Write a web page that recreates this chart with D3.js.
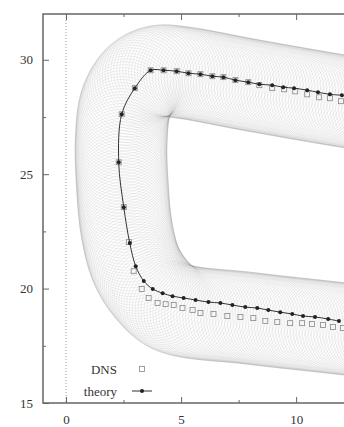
<!DOCTYPE html>
<html>
<head>
<meta charset="utf-8">
<script src="https://cdn.jsdelivr.net/npm/d3@7"></script>
<style>
  body { margin: 0; background: #fff; }
  svg { display: block; }
</style>
</head>
<body>
<svg id="chart" width="344" height="427"></svg>
<script>
// theory curve (from upper right, round the loop, to lower right)
const theoryX = [11.99, 11.47, 10.95, 10.48, 9.91, 9.44, 8.96, 8.40, 7.92, 7.36, 6.84, 6.36, 5.84, 5.32, 4.81, 4.24, 3.68,
                 2.99, 2.42, 2.29, 2.51, 2.77, 3.03, 3.38, 3.77, 4.20, 4.63, 5.11, 5.63, 6.19, 6.71, 7.23, 7.79, 8.31,
                 8.79, 9.31, 9.83, 10.30, 10.82, 11.39, 11.86];
const theoryY = [28.45, 28.49, 28.58, 28.67, 28.76, 28.80, 28.89, 28.93, 29.02, 29.11, 29.24, 29.28, 29.37, 29.41, 29.50, 29.54, 29.54,
                 28.76, 27.62, 25.52, 23.56, 21.99, 20.98, 20.33, 19.98, 19.80, 19.67, 19.59, 19.50, 19.41, 19.37, 19.28, 19.19, 19.15,
                 19.06, 18.97, 18.89, 18.80, 18.76, 18.67, 18.58];

// DNS points
const dnsX = [11.95, 11.47, 11.00, 10.48, 9.96, 9.48, 8.96, 8.40, 7.92, 7.36, 6.84, 6.36, 5.84, 5.32, 4.81, 4.24, 3.68,
              2.99, 2.42, 2.29, 2.51, 2.73, 2.94, 3.29, 3.59, 3.98, 4.33, 4.68, 5.06, 5.50, 5.84, 6.41, 7.01, 7.58,
              8.14, 8.66, 9.18, 9.74, 10.26, 10.69, 11.17, 11.60, 12.03];
const dnsY = [28.19, 28.32, 28.36, 28.49, 28.62, 28.71, 28.76, 28.89, 29.02, 29.11, 29.24, 29.28, 29.37, 29.41, 29.50, 29.54, 29.54,
              28.76, 27.62, 25.52, 23.56, 22.03, 20.76, 19.98, 19.59, 19.37, 19.32, 19.28, 19.15, 19.06, 18.93, 18.89, 18.80, 18.76,
              18.71, 18.58, 18.54, 18.49, 18.49, 18.45, 18.41, 18.32, 18.28];

// centre line of the grey tube of rings and the ring radius
const tubeX = [15.0, 12.0, 8.0, 5.0, 4.0, 3.2, 2.6, 2.4, 2.45, 2.65, 3.1, 3.9, 4.7, 8.0, 12.0, 15.0];
const tubeY = [27.75, 28.2, 28.9, 29.45, 29.5, 29.1, 28.1, 26.5, 24.5, 22.5, 20.9, 19.75, 19.15, 18.7, 18.25, 17.9];
const tubeRadius = 2.0;

const xTicks = [0, 5, 10];
const xMinor = [2.5, 7.5];
const yTicks = [15, 20, 25, 30];
const yMinor = [17.5, 22.5, 27.5];
const legendLabels = ['DNS', 'theory'];

const FONT = '"Liberation Serif", "DejaVu Serif", serif';
const MARGINS = { top: 14, bottom: 24, left: 43, right: 0 };
const WIDTH = 344, HEIGHT = 427;

const svg = d3.select('#chart');

const x = d3.scaleLinear().domain([-1, 12.08]).range([MARGINS.left, WIDTH - MARGINS.right]);
const y = d3.scaleLinear().domain([15, 32]).range([HEIGHT - MARGINS.bottom, MARGINS.top]);

const defs = svg.append('defs');
defs.append('clipPath').attr('id', 'plot-clip')
  .append('rect')
    .attr('x', MARGINS.left).attr('y', MARGINS.top)
    .attr('width', WIDTH - MARGINS.left).attr('height', HEIGHT - MARGINS.bottom - MARGINS.top);
defs.append('filter').attr('id', 'soft')
  .attr('x', '-5%').attr('y', '-5%').attr('width', '110%').attr('height', '110%')
  .append('feGaussianBlur').attr('stdDeviation', 0.6);

const plot = svg.append('g').attr('clip-path', 'url(#plot-clip)');

// Tube: rings along the centre line
const tubePts = tubeX.map((d, i) => [x(d), y(tubeY[i])]);
const guide = plot.append('path')
  .attr('d', d3.line().curve(d3.curveCatmullRom.alpha(0.5))(tubePts))
  .attr('fill', 'none').attr('stroke', 'none');
const node = guide.node();
const total = node.getTotalLength();
const rings = [];
for (let s = 0; s <= total; s += 3) {
  const p = node.getPointAtLength(s);
  rings.push([p.x, p.y]);
}
const rPx = x(tubeRadius) - x(0);
plot.append('g').attr('class', 'rings')
  .attr('filter', 'url(#soft)')
  .selectAll('circle')
  .data(rings)
  .join('circle')
    .attr('cx', d => d[0])
    .attr('cy', d => d[1])
    .attr('r', rPx)
    .attr('fill', 'none')
    .attr('stroke', '#888')
    .attr('stroke-width', 0.45)
    .attr('stroke-opacity', 0.3);

// dotted zero line
plot.append('line')
  .attr('x1', x(0)).attr('x2', x(0))
  .attr('y1', MARGINS.top).attr('y2', HEIGHT - MARGINS.bottom)
  .attr('stroke', '#999').attr('stroke-width', 1)
  .attr('stroke-dasharray', '1,2');

// DNS: open squares
const sq = 5;
plot.selectAll('rect.dns')
  .data(dnsX.map((d, i) => [d, dnsY[i]]))
  .join('rect')
    .attr('class', 'dns')
    .attr('x', d => x(d[0]) - sq / 2)
    .attr('y', d => y(d[1]) - sq / 2)
    .attr('width', sq).attr('height', sq)
    .attr('fill', 'none')
    .attr('stroke', '#888')
    .attr('stroke-width', 0.8);

// theory: line with filled points
const theoryPts = theoryX.map((d, i) => [d, theoryY[i]]);
plot.append('path')
  .datum(theoryPts)
  .attr('d', d3.line().x(d => x(d[0])).y(d => y(d[1])).curve(d3.curveCatmullRom.alpha(0.5)))
  .attr('fill', 'none')
  .attr('stroke', '#333')
  .attr('stroke-width', 1);
plot.selectAll('circle.theory')
  .data(theoryPts)
  .join('circle')
    .attr('class', 'theory')
    .attr('cx', d => x(d[0]))
    .attr('cy', d => y(d[1]))
    .attr('r', 2)
    .attr('fill', '#222');

// Axes (ticks point inwards, gnuplot style)
function styleAxis(g) {
  g.select('.domain').remove();
  g.selectAll('line').attr('stroke', '#666').attr('stroke-width', 1);
  g.selectAll('text').attr('font-family', FONT).attr('font-size', 13).attr('fill', '#333');
}
svg.append('g')
  .attr('transform', `translate(${MARGINS.left},0)`)
  .call(d3.axisLeft(y).tickValues(yTicks).tickSize(-6).tickPadding(10).tickFormat(d3.format('d')))
  .call(styleAxis);
svg.append('g')
  .attr('transform', `translate(${MARGINS.left},0)`)
  .call(d3.axisLeft(y).tickValues(yMinor).tickSize(-3).tickFormat(''))
  .call(styleAxis);
svg.append('g')
  .attr('transform', `translate(0,${HEIGHT - MARGINS.bottom})`)
  .call(d3.axisBottom(x).tickValues(xTicks).tickSize(-6).tickPadding(12).tickFormat(d3.format('d')))
  .call(styleAxis);
svg.append('g')
  .attr('transform', `translate(0,${HEIGHT - MARGINS.bottom})`)
  .call(d3.axisBottom(x).tickValues(xMinor).tickSize(-3).tickFormat(''))
  .call(styleAxis);
svg.append('g')
  .attr('transform', `translate(0,${MARGINS.top})`)
  .call(d3.axisTop(x).tickValues(xTicks).tickSize(-6).tickFormat(''))
  .call(styleAxis);
svg.append('g')
  .attr('transform', `translate(0,${MARGINS.top})`)
  .call(d3.axisTop(x).tickValues(xMinor).tickSize(-3).tickFormat(''))
  .call(styleAxis);

// Frame (left, top, bottom; the right side runs off the picture)
svg.append('path')
  .attr('d', `M${WIDTH},${MARGINS.top}H${MARGINS.left}V${HEIGHT - MARGINS.bottom}H${WIDTH}`)
  .attr('fill', 'none')
  .attr('stroke', '#666')
  .attr('stroke-width', 1.5);

// Legend
const legend = svg.append('g').attr('class', 'legend');
const legendY = [369, 391];
legend.selectAll('text')
  .data(legendLabels)
  .join('text')
    .attr('x', 117)
    .attr('y', (d, i) => legendY[i])
    .attr('dy', '0.35em')
    .attr('text-anchor', 'end')
    .attr('font-family', FONT)
    .attr('font-size', 13)
    .attr('fill', '#333')
    .text(d => d);
legend.append('rect')
  .attr('x', 142 - sq / 2).attr('y', legendY[0] - sq / 2)
  .attr('width', sq).attr('height', sq)
  .attr('fill', 'none').attr('stroke', '#888').attr('stroke-width', 0.8);
legend.append('line')
  .attr('x1', 132).attr('x2', 152)
  .attr('y1', legendY[1]).attr('y2', legendY[1])
  .attr('stroke', '#333').attr('stroke-width', 1);
legend.append('circle')
  .attr('cx', 142).attr('cy', legendY[1]).attr('r', 2).attr('fill', '#222');
</script>
</body>
</html>
